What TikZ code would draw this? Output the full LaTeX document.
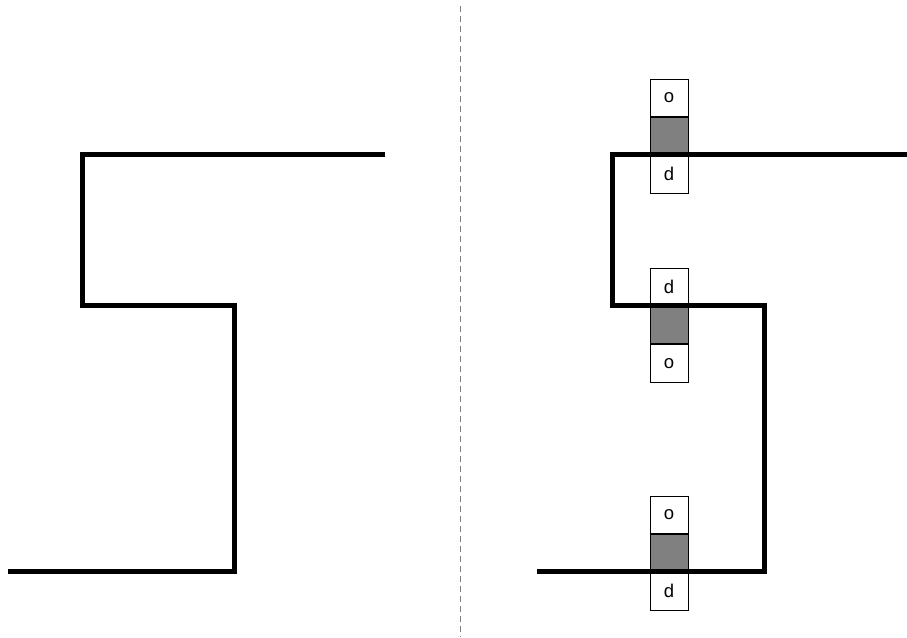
\documentclass[tikz,border=0pt]{standalone}
\usepackage{fontspec}
\setmainfont{Liberation Sans}
\begin{document}
\begin{tikzpicture}[x=1pt,y=-1pt,
  wall/.style={line width=5pt, line join=miter, black},
  cell/.style={draw=black, line width=0.8pt, minimum width=38pt, minimum height=37.5pt, inner sep=0pt, anchor=north, font=\fontsize{18.5}{18.5}\selectfont},
  grey/.style={cell, fill=gray}]
\useasboundingbox (0,0) rectangle (907,637);
% divider
\coordinate (dt) at (460.5,6);
\coordinate (db) at (460.5,637);
\draw[gray, line width=1pt, dash pattern=on 6pt off 4pt] (dt) -- (db);
% left wall
\draw[wall] (385,154) -- (82,154) -- (82,305) -- (234,305) -- (234,571) -- (8,571);
% boxes (drawn before the right wall)
\node[cell] (o1) at (669,78.5) {o};
\node[grey] (g1) at (o1.south) {};
\node[cell] (d1) at (g1.south) {d};
\node[cell] (d2) at (669,267.5) {d};
\node[grey] (g2) at (d2.south) {};
\node[cell] (o2) at (g2.south) {o};
\node[cell] (o3) at (669,495.5) {o};
\node[grey] (g3) at (o3.south) {};
\node[cell] (d3) at (g3.south) {d};
% right wall
\draw[wall] (907,154) -- (612,154) -- (612,305) -- (764,305) -- (764,571) -- (537,571);
\end{tikzpicture}
\end{document}
